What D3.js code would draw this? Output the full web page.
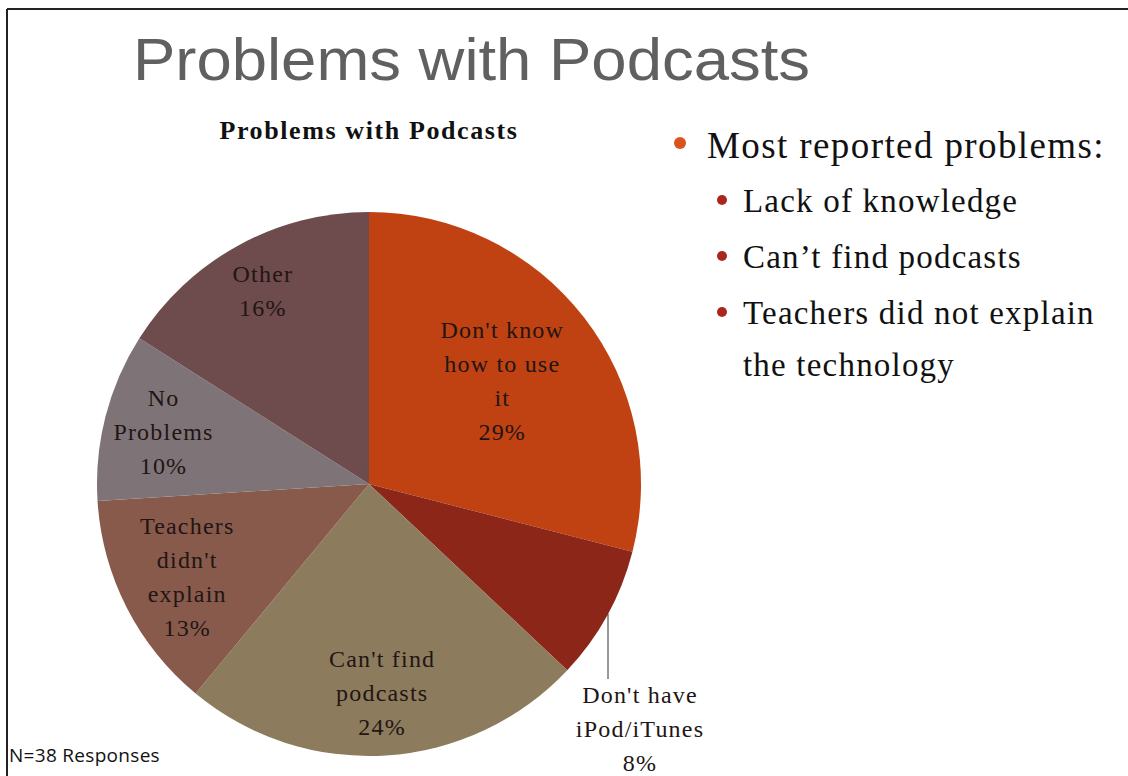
<!DOCTYPE html>
<html>
<head>
<meta charset="utf-8">
<script src="https://cdn.jsdelivr.net/npm/d3@7/dist/d3.min.js"></script>
<style>
  html, body { margin: 0; padding: 0; background: #fff; }
  svg { display: block; }
</style>
</head>
<body>
<svg id="chart" width="1128" height="776"></svg>
<script>
// Survey answers (share of 38 responses), clockwise from 12 o'clock
const categories = ["Don't know how to use it", "Don't have iPod/iTunes", "Can't find podcasts",
                    "Teachers didn't explain", "No Problems", "Other"];
const labelLines = [["Don't know", "how to use", "it"], ["Don't have", "iPod/iTunes"], ["Can't find", "podcasts"],
                    ["Teachers", "didn't", "explain"], ["No", "Problems"], ["Other"]];
const percents = [29, 8, 24, 13, 10, 16];
const sliceColors = ["#c04212", "#8b2619", "#8c7b5d", "#875a4b", "#7e7477", "#6e4b4c"];

const bulletHead = "Most reported problems:";
const bulletItems = [["Lack of knowledge"], ["Can\u2019t find podcasts"], ["Teachers did not explain", "the technology"]];

const svg = d3.select("#chart");
const serif = "'Liberation Serif', 'Times New Roman', serif";

// slide frame (top and left rules)
svg.append("line").attr("x1", 7).attr("y1", 9).attr("x2", 1128).attr("y2", 9)
  .attr("stroke", "#222").attr("stroke-width", 2);
svg.append("line").attr("x1", 7).attr("y1", 9).attr("x2", 7).attr("y2", 776)
  .attr("stroke", "#222").attr("stroke-width", 2);

// slide title
svg.append("text")
  .attr("x", 133).attr("y", 80)
  .attr("textLength", 677).attr("lengthAdjust", "spacingAndGlyphs")
  .attr("font-family", "'Liberation Sans Narrow', 'Liberation Sans', Arial, sans-serif")
  .attr("font-size", 60).attr("fill", "#606060")
  .text("Problems with Podcasts");

// chart title
svg.append("text")
  .attr("x", 369).attr("y", 139).attr("text-anchor", "middle")
  .attr("font-family", serif)
  .attr("font-weight", "bold").attr("font-size", 26).attr("letter-spacing", 1.6)
  .attr("fill", "#111")
  .text("Problems with Podcasts");

// pie
const cx = 369, cy = 484, R = 272;
const g = svg.append("g").attr("transform", `translate(${cx},${cy})`);
const pie = d3.pie().sort(null).value(d => d);
const arcs = pie(percents);
const arc = d3.arc().innerRadius(0).outerRadius(R);

g.selectAll("path.slice").data(arcs).join("path")
  .attr("class", "slice")
  .attr("d", arc)
  .attr("fill", (d, i) => sliceColors[i]);

// label placement: radius fraction along each slice's mid angle (null = outside label)
const labelRadius = [0.62, null, 0.77, 0.75, 0.78, 0.81];
const lineH = 34;

arcs.forEach((d, i) => {
  const lines = labelLines[i].concat([percents[i] + "%"]);
  let x, y;
  if (labelRadius[i] !== null) {
    const [mx, my] = d3.arc().innerRadius(0).outerRadius(2 * R * labelRadius[i]).centroid(d);
    x = mx; y = my;
  } else {
    // outside label with a vertical leader line from the rim
    const ex = 239;
    const ey = Math.sqrt(R * R - ex * ex);
    g.append("line").attr("x1", ex).attr("y1", ey).attr("x2", ex).attr("y2", 195)
      .attr("stroke", "#333").attr("stroke-width", 1);
    x = 271; y = 245;
  }
  const t = g.append("text")
    .attr("text-anchor", "middle")
    .attr("font-family", serif).attr("font-size", 24).attr("letter-spacing", 1.2)
    .attr("fill", "#221514");
  const top = y - (lines.length - 1) * lineH / 2;
  lines.forEach((s, k) => {
    t.append("tspan").attr("x", x).attr("y", top + k * lineH).attr("dy", "0.35em").text(s);
  });
});

// bullet list
svg.append("circle").attr("cx", 680).attr("cy", 143).attr("r", 6).attr("fill", "#d9531e");
svg.append("text").attr("x", 707).attr("y", 158)
  .attr("font-family", serif).attr("font-size", 37).attr("letter-spacing", 1.4).attr("fill", "#111")
  .text(bulletHead);

let by = 212;
bulletItems.forEach(item => {
  svg.append("circle").attr("cx", 722).attr("cy", by - 12).attr("r", 5).attr("fill", "#a8281e");
  item.forEach((s, k) => {
    svg.append("text").attr("x", 743).attr("y", by + k * 52)
      .attr("font-family", serif).attr("font-size", 33).attr("letter-spacing", 1.2).attr("fill", "#111")
      .text(s);
  });
  by += 56 * item.length - (item.length > 1 ? 4 : 0);
});

// footnote
svg.append("text").attr("x", 9).attr("y", 762)
  .attr("font-family", "'Open Sans', 'Noto Sans', sans-serif")
  .attr("font-size", 19).attr("letter-spacing", 0.3).attr("fill", "#111")
  .text("N=38 Responses");
</script>
</body>
</html>
